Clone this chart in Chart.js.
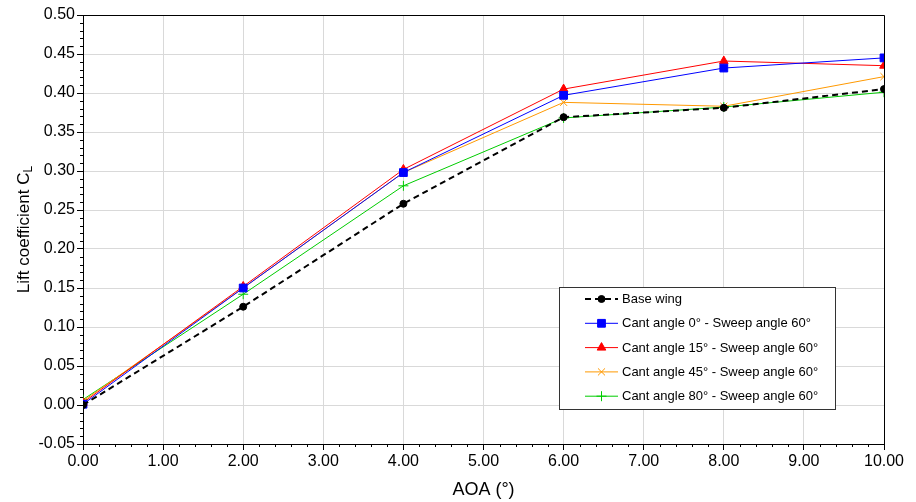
<!DOCTYPE html>
<html>
<head>
<meta charset="utf-8">
<script src="https://cdn.jsdelivr.net/npm/chart.js@4.4.0/dist/chart.umd.min.js"></script>
<style>
  html, body { margin: 0; padding: 0; background: #fff; }
  #wrap { width: 916px; height: 502px; }
</style>
</head>
<body>
<div id="wrap"><canvas id="chart" width="916" height="502"></canvas></div>
<script>
// AOA in degrees
const aoa = [0, 2, 4, 6, 8, 10];

// lift coefficient per configuration
const baseWing = [0.000, 0.126, 0.258, 0.369, 0.381, 0.405];
const cant0 = [0.001, 0.150, 0.298, 0.397, 0.432, 0.445];
const cant15 = [0.003, 0.152, 0.302, 0.405, 0.441, 0.435];
const cant45 = [0.005, 0.150, 0.298, 0.388, 0.383, 0.421];
const cant80 = [0.007, 0.142, 0.281, 0.368, 0.382, 0.401];

const seriesLabels = [
    "Base wing",
    "Cant angle 0° - Sweep angle 60°",
    "Cant angle 15° - Sweep angle 60°",
    "Cant angle 45° - Sweep angle 60°",
    "Cant angle 80° - Sweep angle 60°",
];

const xTicks = [0, 1, 2, 3, 4, 5, 6, 7, 8, 9, 10];
const yTicks = [-0.05, 0, 0.05, 0.1, 0.15, 0.2, 0.25, 0.3, 0.35, 0.4, 0.45, 0.5];

const FONT = "'Liberation Sans', Arial, sans-serif";

function pts(ys) {
    return aoa.map((x, i) => ({ x: x, y: ys[i] }));
}

function series(label, ys, color, style, radius, extra) {
    return Object.assign({
        label: label,
        data: pts(ys),
        borderColor: color,
        backgroundColor: color,
        borderWidth: 1,
        pointStyle: style,
        pointRadius: radius,
        pointHoverRadius: radius,
        pointBorderColor: color,
        pointBackgroundColor: color,
        pointBorderWidth: 1,
        tension: 0,
    }, extra || {});
}

const datasets = [
    series(seriesLabels[0], baseWing, "#000000", "circle", 3.5, { borderWidth: 2, borderDash: [6, 4] }),
    series(seriesLabels[1], cant0, "#0000ff", "rect", 5.5),
    series(seriesLabels[2], cant15, "#ff0000", "triangle", 5),
    series(seriesLabels[3], cant45, "#ff9900", "crossRot", 5),
    series(seriesLabels[4], cant80, "#00cc00", "cross", 5),
];

// minor ticks, frame, y title with subscript and the boxed legend
const extras = {
    id: "extras",
    afterDraw(chart) {
        const ctx = chart.ctx;
        const a = chart.chartArea;
        const xs = chart.scales.x;
        const ys = chart.scales.y;
        ctx.save();
        ctx.strokeStyle = "#000";
        ctx.lineWidth = 1;

        // minor ticks
        ctx.beginPath();
        for (let i = 0; i <= 50; i++) {
            if (i % 5 === 0) continue;
            const px = Math.round(xs.getPixelForValue(i * 0.2)) + 0.5;
            ctx.moveTo(px, a.bottom);
            ctx.lineTo(px, a.bottom + 3);
        }
        for (let i = -5; i <= 50; i++) {
            if (i % 5 === 0) continue;
            const py = Math.round(ys.getPixelForValue(i * 0.01)) + 0.5;
            ctx.moveTo(a.left - 3, py);
            ctx.lineTo(a.left, py);
        }
        ctx.stroke();

        // frame top and right
        ctx.beginPath();
        ctx.moveTo(Math.round(a.left) + 0.5, Math.round(a.top) + 0.5);
        ctx.lineTo(Math.round(a.right) + 0.5, Math.round(a.top) + 0.5);
        ctx.lineTo(Math.round(a.right) + 0.5, Math.round(a.bottom) + 0.5);
        ctx.stroke();

        // y axis title
        ctx.fillStyle = "#000";
        ctx.translate(24, (a.top + a.bottom) / 2);
        ctx.rotate(-Math.PI / 2);
        const main = "Lift coefficient C";
        ctx.font = "17px " + FONT;
        const w1 = ctx.measureText(main).width;
        ctx.font = "12px " + FONT;
        const w2 = ctx.measureText("L").width;
        const start = -(w1 + w2) / 2;
        ctx.textBaseline = "middle";
        ctx.textAlign = "left";
        ctx.font = "17px " + FONT;
        ctx.fillText(main, start, 0);
        ctx.font = "12px " + FONT;
        ctx.fillText("L", start + w1, 5);
        ctx.restore();

        // legend
        ctx.save();
        const bx = 559.5, by = 287.5, bw = 276, bh = 122;
        ctx.fillStyle = "#fff";
        ctx.fillRect(bx, by, bw, bh);
        ctx.strokeStyle = "#333";
        ctx.lineWidth = 1;
        ctx.strokeRect(bx, by, bw, bh);
        ctx.font = "13px " + FONT;
        ctx.textBaseline = "middle";
        ctx.fillStyle = "#000";
        chart.data.datasets.forEach((ds, i) => {
            const y = 299 + i * 24.3;
            ctx.save();
            ctx.strokeStyle = ds.borderColor;
            ctx.lineWidth = ds.borderWidth;
            ctx.setLineDash(ds.borderDash || []);
            ctx.beginPath();
            ctx.moveTo(585, y);
            ctx.lineTo(618, y);
            ctx.stroke();
            ctx.setLineDash([]);
            ctx.fillStyle = ds.pointBackgroundColor;
            ctx.strokeStyle = ds.pointBorderColor;
            ctx.lineWidth = 1;
            Chart.helpers.drawPoint(ctx, {
                pointStyle: ds.pointStyle,
                radius: ds.pointRadius,
                rotation: 0,
                borderWidth: 1,
            }, 601.5, y);
            ctx.restore();
            ctx.fillText(ds.label, 622, y + 0.5);
        });
        ctx.restore();
    }
};

new Chart(document.getElementById("chart"), {
    type: "line",
    data: { datasets: datasets },
    options: {
        responsive: false,
        animation: false,
        events: [],
        layout: { padding: { left: 0, top: 15, right: 32, bottom: 0 } },
        plugins: {
            legend: { display: false },
            tooltip: { enabled: false },
        },
        scales: {
            x: {
                type: "linear",
                min: 0,
                max: 10,
                afterBuildTicks: (s) => { s.ticks = xTicks.map(v => ({ value: v })); },
                afterFit: (s) => { s.height = 58; },
                ticks: {
                    color: "#000",
                    font: { family: FONT, size: 16 },
                    padding: 2,
                    maxRotation: 0,
                    callback: (v) => Number(v).toFixed(2),
                },
                grid: { color: "#d9d9d9", tickColor: "#000", tickLength: 6, lineWidth: 1 },
                border: { color: "#000", width: 1 },
                title: {
                    display: true,
                    text: "AOA (°)",
                    color: "#000",
                    font: { family: FONT, size: 18 },
                    padding: { top: 0, bottom: 1 },
                },
            },
            y: {
                type: "linear",
                min: -0.05,
                max: 0.5,
                afterBuildTicks: (s) => { s.ticks = yTicks.map(v => ({ value: v })); },
                afterFit: (s) => { s.width = 83; },
                ticks: {
                    color: "#000",
                    font: { family: FONT, size: 16 },
                    padding: 2,
                    callback: (v) => Number(v).toFixed(2),
                },
                grid: { color: "#d9d9d9", tickColor: "#000", tickLength: 6, lineWidth: 1 },
                border: { color: "#000", width: 1 },
            },
        },
    },
    plugins: [extras],
});
</script>
</body>
</html>
